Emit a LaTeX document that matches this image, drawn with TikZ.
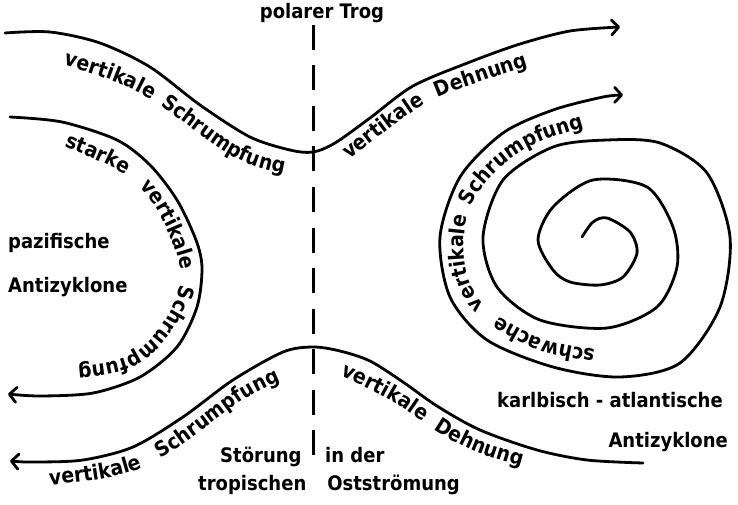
\documentclass[tikz,border=0pt]{standalone}
\usepackage{fontspec}
\setmainfont{DejaVu Sans}
\newfontfamily\dfont{DejaVu Sans}[FakeStretch=0.9]
\usetikzlibrary{arrows.meta,decorations.text}
\newcommand\cvf{\dfont\bfseries\fontsize{21pt}{24pt}\selectfont}
\newcommand\lbf{\dfont\bfseries\fontsize{20pt}{23pt}\selectfont}
\tikzset{
  curve/.style={line width=2.8pt, line cap=round, line join=round},
  tip/.style={-{Straight Barb[length=7pt,width=15pt,round]}},
  rtip/.style={{Straight Barb[length=7pt,width=15pt,round]}-},
  lab/.style={inner sep=0pt, font=\lbf},
  word/.style 2 args={postaction={decorate,decoration={text along path,text={|\cvf|#2},text align={left indent=#1pt}}}}
}
\begin{document}
\begin{tikzpicture}[x=1pt,y=-1pt]
\useasboundingbox (0,0) rectangle (738,505);

% dashed trough line
\coordinate (dt) at (313,25);
\coordinate (db) at (313,470);
\draw[line width=3pt, dash pattern=on 25pt off 15.5pt] (dt) -- (db);

% upper curve
\draw[curve, tip] plot[smooth] coordinates {(5,33) (50,32) (100,43) (150,67) (200,105) (250,137) (290,150) (313,152) (335,143) (370,118) (413,86) (470,62) (520,44) (570,31) (620,27)};
% lower curve
\draw[curve, rtip] plot[smooth] coordinates {(10,461) (35,462) (83,460) (133,447) (183,417) (233,380) (283,352) (313,347) (340,351) (370,361) (403,382) (437,406) (480,430) (537,450) (587,460) (643,463)};
% left arc
\draw[curve, tip] plot[smooth] coordinates {(10,117) (62,122) (117,140) (150,165) (177,200) (196,240) (202,268) (197,307) (177,347) (140,377) (93,393) (40,396) (8,394)};
% spiral
\draw[curve, tip] plot[smooth] coordinates {(582,237) (593,222) (607,218) (630,232) (637,253) (623,277) (600,285) (570,282) (553,270) (538,240) (553,207) (593,180) (647,187) (673,227) (677,267) (657,307) (607,328) (540,320) (497,287) (483,237) (503,180) (553,147) (607,140) (660,143) (707,173) (730,237) (720,307) (680,363) (620,377) (553,367) (487,340) (450,297) (440,237) (460,177) (503,133) (553,110) (603,97) (623,95)};

% curved texts (baselines)
\path[word={6}{vertikale}, word={111}{Schrumpfung}] (58,63) .. controls (71.7,68) and (109.7,76.8) .. (140,93) .. controls (170.3,109.2) and (210,145.7) .. (240,160) .. controls (270,174.3) and (306.7,175.8) .. (320,179);
\path[word={5}{vertikale}, word={114}{Dehnung}] (345,163) .. controls (357.8,153.5) and (400,119.3) .. (422,106) .. controls (444,92.7) and (454,91.3) .. (477,83) .. controls (500,74.7) and (546.2,60.5) .. (560,56);
\path[word={5}{vertikale}, word={120}{Schrumpfung}] (45,486) .. controls (61.5,482.8) and (110.7,481.5) .. (144,467) .. controls (177.3,452.5) and (219,415.8) .. (245,399) .. controls (271,382.2) and (307.5,371.5) .. (320,366);
\path[word={8}{vertikale}, word={116}{Dehnung}] (333,372) .. controls (342.5,376.7) and (367,387) .. (390,400) .. controls (413,413) and (439.3,436.3) .. (471,450) .. controls (502.7,463.7) and (561.8,476.7) .. (580,482);
\path[word={10}{starke}, word={96}{vertikale}, word={205}{Schrumpfung}] (55,143) .. controls (68.2,149.3) and (114,163.5) .. (134,181) .. controls (154,198.5) and (168,228.2) .. (175,248) .. controls (182,267.8) and (183.7,282) .. (176,300) .. controls (168.3,318) and (151.7,344.5) .. (129,356) .. controls (106.3,367.5) and (54.8,366.8) .. (40,369);
\path[word={24}{schwache}, word={145}{vertikale}, word={250}{Schrumpfung}] (619,353) .. controls (605.8,350.5) and (563.5,347.3) .. (540,338) .. controls (516.5,328.7) and (490.7,313.5) .. (478,297) .. controls (465.3,280.5) and (463.5,257) .. (464,239) .. controls (464.5,221) and (470,204.3) .. (481,189) .. controls (492,174.3) and (509,158.3) .. (530,147) .. controls (551,135.7) and (589.5,126) .. (607,121) .. controls (624.5,116) and (630.3,117.7) .. (635,117);

% labels
\node[lab, anchor=base] (trog) at (322,19) {polarer Trog};
\node[lab, anchor=base west] (paz) at (8,248) {pazifische};
\node[lab, anchor=base west] (anti1) at (8,292) {Antizyklone};
\node[lab, anchor=base west] (karib) at (497,407) {karlbisch - atlantische};
\node[lab, anchor=base east] (anti2) at (728,447) {Antizyklone};
\node[lab, anchor=base west] (stoer) at (220,462) {Störung};
\node[lab, anchor=base west] (inder) at (325,462) {in der};
\node[lab, anchor=base west] (trop) at (198,490) {tropischen};
\node[lab, anchor=base east] (ost) at (460,490) {Ostströmung};
\end{tikzpicture}
\end{document}
